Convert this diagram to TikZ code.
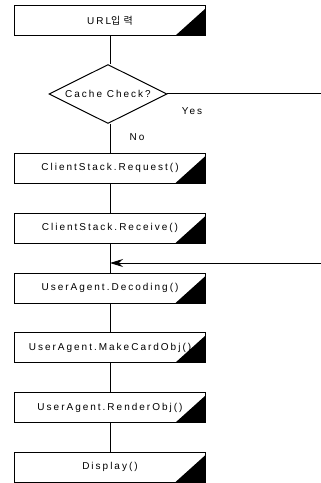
\documentclass[tikz,border=0pt]{standalone}
\usepackage{fontspec}
\setmainfont{Liberation Sans}[LetterSpace=20]
\newfontfamily\kofont{Noto Sans CJK KR}
\usepackage{tikz}
\usetikzlibrary{shapes.geometric,arrows.meta}

\tikzset{
  procbox/.style={draw, line width=1pt, minimum width=191pt, minimum height=30pt,
    inner sep=0pt, path picture={
      \fill ([xshift=-30pt]path picture bounding box.south east)
        -- (path picture bounding box.south east)
        -- ([yshift=-3pt]path picture bounding box.north east) -- cycle;}},
  checkbox/.style={draw, diamond, aspect=2, line width=1pt, minimum width=118pt,
    minimum height=59pt, inner sep=0pt},
  flow/.style={line width=1pt}
}

\begin{document}
\begin{tikzpicture}[x=1pt,y=-1pt,font=\fontsize{10}{12}\selectfont]
        \useasboundingbox (0,0) rectangle (321,483);
        \node[procbox] (url) at (110,20.5) {URL{\kofont 입\,\,력}};
        \node[checkbox] (check) at (108,94) {Cache Check?};
        \node[procbox] (req) at (110,168) {ClientStack.Request()};
        \node[procbox] (rcv) at (110,228) {ClientStack.Receive()};
        \node[procbox] (dec) at (110,288) {UserAgent.Decoding()};
        \node[procbox] (card) at (110,347.5) {UserAgent.MakeCardObj()};
        \node[procbox] (rend) at (110,407.5) {UserAgent.RenderObj()};
        \node[procbox] (disp) at (110,467) {Display()};
        \coordinate (yesend) at (321,93);
        \coordinate (joinend) at (321,263);
        \draw[flow] (url.south) -- (url.south |- check.north);
        \draw[flow] (url.south |- check.south) -- (req.north);
        \node (no) at (137,137) {No};
        \draw[flow] (check.east) -- (check.east |- yesend) -- (yesend);
        \node (yes) at (192,111) {Yes};
        \draw[flow] (req) -- (rcv);
        \draw[flow] (rcv) -- (dec);
        \draw[flow,-{Stealth[length=13pt,width=8pt]}] (joinend) -- (joinend -| dec);
        \draw[flow] (dec) -- (card);
        \draw[flow] (card) -- (rend);
        \draw[flow] (rend) -- (disp);
    \end{tikzpicture}
\end{document}
